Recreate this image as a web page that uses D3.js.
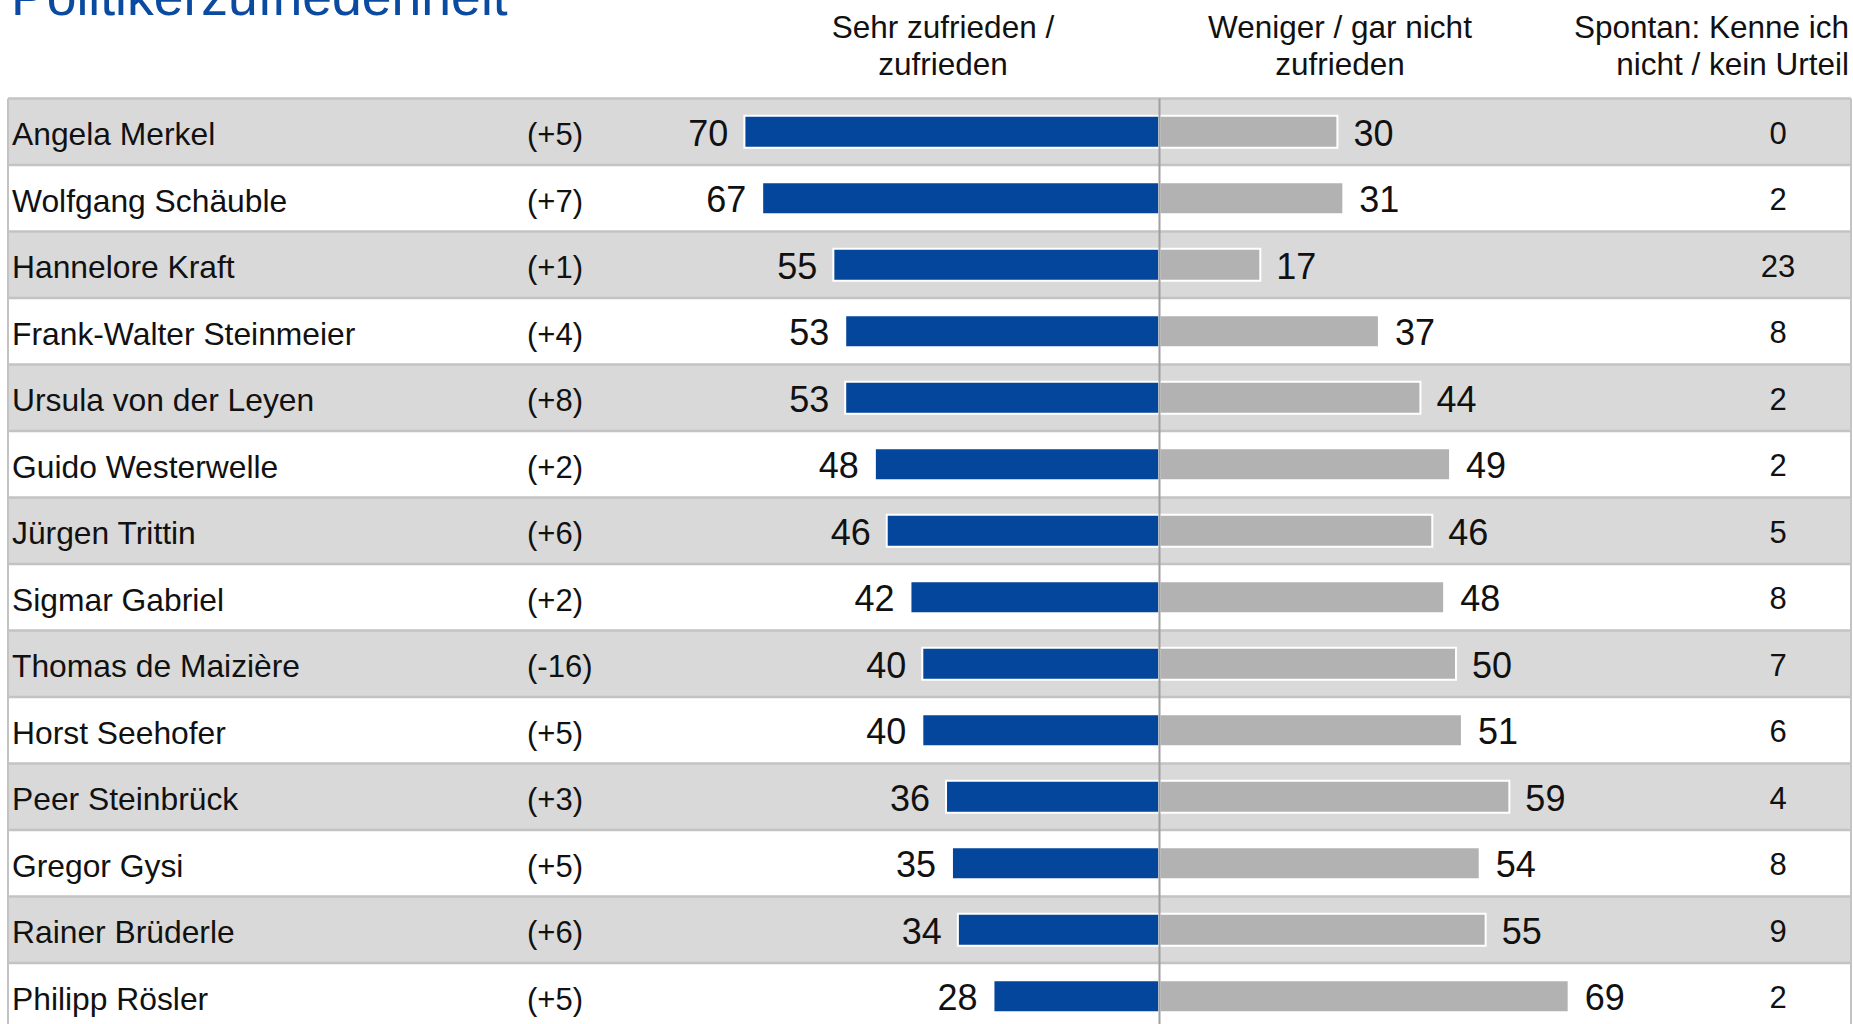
<!DOCTYPE html>
<html lang="de">
<head>
    <meta charset="UTF-8">
    <title>Politikerzufriedenheit</title>
    <script src="https://d3js.org/d3.v7.min.js"></script>
    <style>
        body { margin: 0; background: #fff; }
        svg { display: block; font-family: "Liberation Sans", Arial, sans-serif; }
    </style>
</head>
<body>
    <div id="chart"></div>
    <script>
        const names = ["Angela Merkel", "Wolfgang Schäuble", "Hannelore Kraft", "Frank-Walter Steinmeier",
            "Ursula von der Leyen", "Guido Westerwelle", "Jürgen Trittin", "Sigmar Gabriel",
            "Thomas de Maizière", "Horst Seehofer", "Peer Steinbrück", "Gregor Gysi",
            "Rainer Brüderle", "Philipp Rösler"];
        const changes = ["(+5)", "(+7)", "(+1)", "(+4)", "(+8)", "(+2)", "(+6)", "(+2)",
            "(-16)", "(+5)", "(+3)", "(+5)", "(+6)", "(+5)"];
        const satisfied = [70, 67, 55, 53, 53, 48, 46, 42, 40, 40, 36, 35, 34, 28];
        const dissatisfied = [30, 31, 17, 37, 44, 49, 46, 48, 50, 51, 59, 54, 55, 69];
        const noJudgement = [0, 2, 23, 8, 2, 2, 5, 8, 7, 6, 4, 8, 9, 2];
        const headers = [
            { lines: ["Sehr zufrieden /", "zufrieden"], x: 943, anchor: "middle" },
            { lines: ["Weniger / gar nicht", "zufrieden"], x: 1340, anchor: "middle" },
            { lines: ["Spontan: Kenne ich", "nicht / kein Urteil"], x: 1849, anchor: "end" }
        ];

        const w = 1853;
        const h = 1024;
        const tableLeft = 8;
        const tableRight = 1851;
        const tableTop = 98.5;
        const rowHeight = 66.5;
        const center = 1159.5;
        const barHeight = 30;
        const blue = "#03469b";

        const rows = names.map((name, i) => ({
            name, change: changes[i], pos: satisfied[i], neg: dissatisfied[i], none: noJudgement[i]
        }));

        const y = d3.scaleBand()
            .domain(names)
            .range([tableTop, tableTop + rowHeight * names.length])
            .padding(0);
        const x = d3.scaleLinear().domain([0, 100]).range([0, 593]);

        const svg = d3.select("#chart")
            .append("svg")
            .attr("width", w)
            .attr("height", h);

        svg.append("text")
            .attr("x", 11)
            .attr("y", 15)
            .attr("fill", "#0a4aa0")
            .style("font-size", "53.5px")
            .text("Politikerzufriedenheit");

        headers.forEach(hd => {
            svg.append("text")
                .attr("text-anchor", hd.anchor)
                .style("font-size", "31.5px")
                .attr("fill", "#111")
                .selectAll("tspan")
                .data(hd.lines)
                .join("tspan")
                .attr("x", hd.x)
                .attr("y", (d, i) => 37.5 + i * 37.5)
                .text(d => d);
        });

        const row = svg.selectAll("g.row")
            .data(rows)
            .join("g")
            .attr("class", "row")
            .attr("transform", d => `translate(0,${y(d.name)})`);

        row.append("rect")
            .attr("x", tableLeft)
            .attr("width", tableRight - tableLeft)
            .attr("height", y.bandwidth())
            .attr("fill", (d, i) => i % 2 === 0 ? "#d9d9d9" : "#ffffff");

        const mid = y.bandwidth() / 2;

        row.append("text")
            .attr("x", 12)
            .attr("y", mid + 13.5)
            .style("font-size", "31.8px")
            .attr("fill", "#111")
            .text(d => d.name);

        row.append("text")
            .attr("x", 527)
            .attr("y", mid + 13.5)
            .style("font-size", "31px")
            .attr("fill", "#111")
            .text(d => d.change);

        row.append("rect")
            .attr("x", d => center - x(d.pos))
            .attr("y", mid - barHeight / 2 - 1)
            .attr("width", d => x(d.pos))
            .attr("height", barHeight + 2)
            .attr("fill", blue)
            .attr("stroke", "#fff")
            .attr("stroke-width", 2);

        row.append("rect")
            .attr("x", center)
            .attr("y", mid - barHeight / 2 - 1)
            .attr("width", d => x(d.neg))
            .attr("height", barHeight + 2)
            .attr("fill", "#b2b2b2")
            .attr("stroke", "#fff")
            .attr("stroke-width", 2);

        row.append("text")
            .attr("x", d => center - x(d.pos) - 16)
            .attr("y", mid + 14)
            .attr("text-anchor", "end")
            .style("font-size", "36px")
            .attr("fill", "#111")
            .text(d => d.pos);

        row.append("text")
            .attr("x", d => center + x(d.neg) + 16)
            .attr("y", mid + 14)
            .style("font-size", "36px")
            .attr("fill", "#111")
            .text(d => d.neg);

        row.append("text")
            .attr("x", 1778)
            .attr("y", mid + 12)
            .attr("text-anchor", "middle")
            .style("font-size", "31px")
            .attr("fill", "#111")
            .text(d => d.none);

        // row separators
        svg.selectAll("line.sep")
            .data(d3.range(names.length + 1))
            .join("line")
            .attr("class", "sep")
            .attr("x1", tableLeft)
            .attr("x2", tableRight)
            .attr("y1", i => tableTop + i * rowHeight)
            .attr("y2", i => tableTop + i * rowHeight)
            .attr("stroke", "#c3c3c3")
            .attr("stroke-width", 2.5);

        // table borders
        [tableLeft, tableRight].forEach(bx => {
            svg.append("line")
                .attr("x1", bx).attr("x2", bx)
                .attr("y1", tableTop).attr("y2", h)
                .attr("stroke", "#c3c3c3")
                .attr("stroke-width", 2);
        });

        // zero line
        svg.append("line")
            .attr("x1", center).attr("x2", center)
            .attr("y1", tableTop).attr("y2", h)
            .attr("stroke", "#a0a0a0")
            .attr("stroke-width", 2);
    </script>
</body>
</html>
